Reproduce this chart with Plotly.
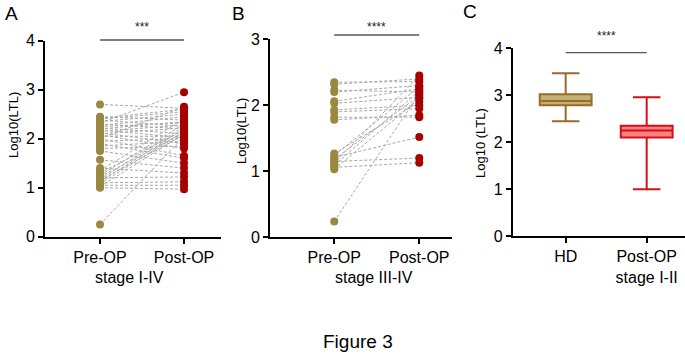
import plotly.graph_objects as go

# ---------------- data ----------------
categories_A = ["Pre-OP", "Post-OP"]
pre_A = [0.25, 1.00, 1.02, 1.05, 1.08, 1.10, 1.12, 1.15, 1.17, 1.20, 1.22, 1.25, 1.30, 1.35,
         1.40, 1.57, 1.75, 1.80, 1.85, 1.90, 1.95, 2.00, 2.05, 2.08, 2.10, 2.12, 2.15, 2.18,
         2.20, 2.22, 2.25, 2.27, 2.30, 2.32, 2.35, 2.38, 2.40, 2.42, 2.45, 2.70, 2.00]
post_A = [2.05, 0.97, 2.10, 1.05, 2.15, 1.12, 2.20, 2.08, 2.25, 1.22, 2.12, 2.30, 2.18, 2.40,
          1.30, 1.40, 1.50, 1.85, 1.95, 1.60, 2.00, 1.65, 2.05, 1.80, 2.22, 1.90, 2.28, 2.02,
          2.35, 2.10, 2.32, 2.45, 2.20, 2.95, 2.50, 2.25, 2.55, 2.60, 2.38, 2.62, 2.65]

categories_B = ["Pre-OP", "Post-OP"]
pre_B = [0.24, 1.03, 1.06, 1.09, 1.12, 1.15, 1.18, 1.21, 1.24, 1.27,
         1.78, 1.82, 1.90, 1.93, 2.03, 2.06, 2.20, 2.23, 2.32, 2.35]
post_B = [2.18, 2.10, 1.13, 2.22, 2.45, 1.20, 2.15, 1.52, 2.28, 2.05,
          1.85, 1.82, 1.95, 2.00, 2.12, 2.25, 2.30, 2.20, 2.40, 2.36]

categories_C = ["HD", "Post-OP<br>stage I-II"]
box_lower = [2.45, 1.00]
box_q1 = [2.79, 2.10]
box_median = [2.88, 2.25]
box_q3 = [3.02, 2.35]
box_upper = [3.47, 2.96]

yticks_A = [0, 1, 2, 3, 4]
yticks_B = [0, 1, 2, 3]
yticks_C = [0, 1, 2, 3, 4]

# ---------------- styles ----------------
FONT = "Liberation Sans, Arial, sans-serif"
PRE_COL = "#9a8840"
POST_COL = "#a80000"
LINE_COL = "#a8a8a8"

fig = go.Figure()


def paired(pre, post, xa, ya):
    xs, ys = [], []
    for a, b in zip(pre, post):
        xs += [0, 1, None]
        ys += [a, b, None]
    fig.add_trace(go.Scatter(x=xs, y=ys, mode="lines", xaxis=xa, yaxis=ya,
                             line=dict(color=LINE_COL, width=1, dash="3px,2px"),
                             hoverinfo="skip", showlegend=False))
    fig.add_trace(go.Scatter(x=[0] * len(pre), y=pre, mode="markers", xaxis=xa, yaxis=ya,
                             marker=dict(color=PRE_COL, size=8, line=dict(width=0)),
                             showlegend=False, cliponaxis=False))
    fig.add_trace(go.Scatter(x=[1] * len(post), y=post, mode="markers", xaxis=xa, yaxis=ya,
                             marker=dict(color=POST_COL, size=8, line=dict(width=0)),
                             showlegend=False, cliponaxis=False))


paired(pre_A, post_A, "x", "y")
paired(pre_B, post_B, "x2", "y2")

box_fill = ["#c2b272", "#ff8080"]
box_line = ["#9c6a2a", "#d0101a"]
for i in range(2):
    fig.add_trace(go.Box(
        x=[i], q1=[box_q1[i]], median=[box_median[i]], q3=[box_q3[i]],
        lowerfence=[box_lower[i]], upperfence=[box_upper[i]],
        width=0.64, whiskerwidth=0.53,
        fillcolor=box_fill[i], line=dict(color=box_line[i], width=2),
        xaxis="x3", yaxis="y3", showlegend=False, boxpoints=False))

axis_common = dict(showgrid=False, zeroline=False, showline=True, linecolor="black",
                   linewidth=1.6, ticks="outside", ticklen=5, tickwidth=1.5,
                   tickcolor="black", tickfont=dict(family=FONT, size=16, color="black"))

H = 356.0
W = 685.0


def py(p):
    return (H - p) / H


def px(p):
    return p / W


fig.update_layout(
    width=685, height=356, margin=dict(l=0, r=0, t=0, b=0, autoexpand=False),
    paper_bgcolor="white", plot_bgcolor="white",
    font=dict(family=FONT, color="black"),
    xaxis=dict(domain=[px(45), px(221)], range=[-0.655, 1.44], tickvals=[0, 1],
               ticktext=categories_A, **axis_common),
    yaxis=dict(domain=[py(236.7), py(40.7)], range=[0, 4], tickvals=yticks_A, **axis_common),
    xaxis2=dict(domain=[px(270), px(452)], range=[-0.756, 1.385], tickvals=[0, 1],
                ticktext=categories_B, anchor="y2", **axis_common),
    yaxis2=dict(domain=[py(237.3), py(39.3)], range=[0, 3], tickvals=yticks_B,
                anchor="x2", **axis_common),
    xaxis3=dict(domain=[px(512.7), 1.0], range=[-0.654, 1.473], tickvals=[0, 1],
                ticktext=categories_C, anchor="y3", **axis_common),
    yaxis3=dict(domain=[py(236.3), py(48.3)], range=[0, 4], tickvals=yticks_C,
                anchor="x3", **axis_common),
)


def note(xref, x, y, text, size, angle=0, color="black"):
    fig.add_annotation(xref=xref, yref="paper", x=x, y=y, text=text, textangle=angle,
                       showarrow=False, xanchor="center", yanchor="middle",
                       font=dict(family=FONT, size=size, color=color))


# significance bars
sig = [("x", py(40), py(27), "***"),
       ("x2", py(35), py(27), "****"),
       ("x3", py(52.7), py(36), "****")]
for xa, ly, ty, txt in sig:
    fig.add_shape(type="line", xref=xa, yref="paper", x0=0, x1=1, y0=ly, y1=ly,
                  line=dict(color="#555555", width=1.3))
    note(xa, 0.5, ty, txt, 12, color="#222222")

# y-axis titles
for x, y, t in [(13, 125, "Log10(LTL)"), (242, 131, "Log10(LTL)"), (480, 143, "Log10 (LTL)")]:
    note("paper", px(x), py(y), t, 13, angle=-90)

# x group labels
note("x", 0.35, py(277), "stage I-IV", 16)
note("x2", 0.47, py(277), "stage III-IV", 16)

# panel letters
for x, y, t in [(11, 13.5, "A"), (239, 13.5, "B"), (470, 12, "C")]:
    note("paper", px(x), py(y), t, 19)

note("paper", px(358), py(341), "Figure 3", 19)

fig.write_html("out.html", config={"displayModeBar": False},
               post_script="document.body.style.margin='0';")
